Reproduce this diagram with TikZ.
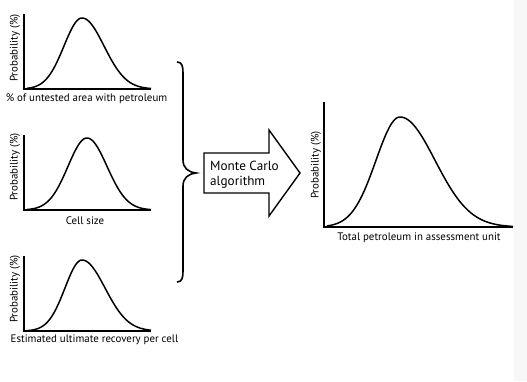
\documentclass[tikz,border=0pt]{standalone}
\usepackage{fontspec}
\setmainfont{PT Sans}
\begin{document}
\begin{tikzpicture}[x=1pt,y=-1pt,
  axisline/.style={line width=1.6pt,line cap=butt},
  curveline/.style={line width=1.5pt},
  lbl/.style={font=\fontsize{10.9}{12}\selectfont,inner sep=0pt},
  ylbl/.style={font=\fontsize{10.9}{12}\selectfont,inner sep=0pt,rotate=90}]
\useasboundingbox (0,0) rectangle (527,381);
\fill[white] (0,0) rectangle (527,381);
\fill[black!3] (514,0) rectangle (527,381);
% ---- chart 1 ----
\draw[axisline] (24,14) -- (24,89) -- (151,89);
\draw[curveline,domain=27:82,samples=60,smooth] plot (\x,{89-71*exp(-((\x-82)^2)/(2*18^2))});
\draw[curveline,domain=82:151,samples=60,smooth] plot (\x,{89-71*exp(-((\x-82)^2)/(2*22^2))});
\node[ylbl] (y1) at (15,48) {Probability (\%)};
\node[lbl] (x1) at (86.5,99) {\% of untested area with petroleum};
% ---- chart 2 ----
\draw[axisline] (24,135) -- (24,210) -- (151,210);
\draw[curveline,domain=27:87,samples=60,smooth] plot (\x,{210-72*exp(-((\x-87)^2)/(2*19^2))});
\draw[curveline,domain=87:151,samples=60,smooth] plot (\x,{210-72*exp(-((\x-87)^2)/(2*20^2))});
\node[ylbl] (y2) at (15,167) {Probability (\%)};
\node[lbl] (x2) at (85,221) {Cell size};
% ---- chart 3 ----
\draw[axisline] (24,256) -- (24,331) -- (151,331);
\draw[curveline,domain=27:82,samples=60,smooth] plot (\x,{331-71*exp(-((\x-82)^2)/(2*17^2))});
\draw[curveline,domain=82:151,samples=60,smooth] plot (\x,{331-71*exp(-((\x-82)^2)/(2*23^2))});
\node[ylbl] (y3) at (15,289) {Probability (\%)};
\node[lbl] (x3) at (94.5,340) {Estimated ultimate recovery per cell};
% ---- brace ----
\draw[line width=1.6pt] (177,62) .. controls (182,62) and (183,66) .. (183,73) -- (183,160)
  .. controls (183,168) and (188,172) .. (196,173)
  .. controls (188,174) and (183,178) .. (183,186) -- (183,271)
  .. controls (183,278) and (182,282) .. (177,282);
% ---- arrow ----
\coordinate (a1) at (204,153);
\coordinate (a2) at (269,153);
\coordinate (a3) at (269,130);
\coordinate (tip) at (300,173);
\coordinate (a4) at (269,216);
\coordinate (a5) at (269,193);
\coordinate (a6) at (204,193);
\draw[line width=1.4pt,fill=white,line join=miter] (a1) -- (a2) -- (a3) -- (tip) -- (a4) -- (a5) -- (a6) -- cycle;
\node[inner sep=0pt,anchor=west,align=left,font=\fontsize{13.2}{15}\selectfont] (mc) at (210,174.5) {Monte Carlo\\algorithm};
% ---- result chart ----
\draw[axisline] (324,102) -- (324,227) -- (513,227);
\draw[curveline,domain=327:400,samples=80,smooth] plot (\x,{227-110*exp(-((\x-400)^2)/(2*24^2))});
\draw[curveline,domain=400:513,samples=100,smooth] plot (\x,{227-110*exp(-((\x-400)^2)/(2*35^2))});
\node[ylbl] (y4) at (316,165) {Probability (\%)};
\node[lbl] (x4) at (419,238) {Total petroleum in assessment unit};
\end{tikzpicture}
\end{document}
